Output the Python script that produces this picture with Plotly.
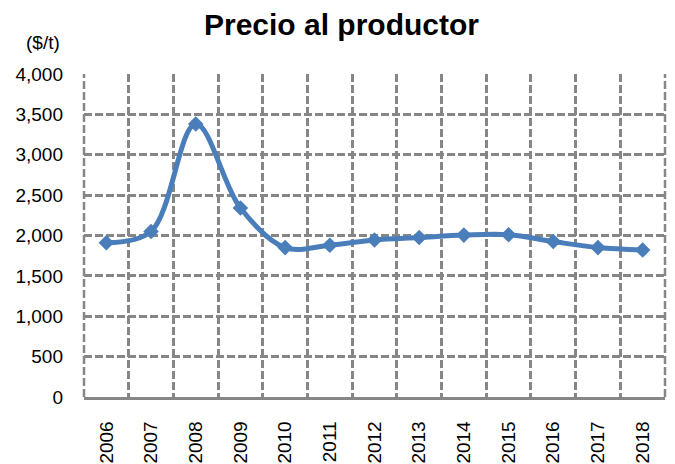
import plotly.graph_objects as go

years = ["2006", "2007", "2008", "2009", "2010", "2011", "2012", "2013", "2014", "2015", "2016", "2017", "2018"]
prices = [1910, 2050, 3380, 2340, 1850, 1880, 1945, 1975, 2005, 2010, 1925, 1850, 1820]
y_ticks = [0, 500, 1000, 1500, 2000, 2500, 3000, 3500, 4000]
y_tick_labels = ["0", "500", "1,000", "1,500", "2,000", "2,500", "3,000", "3,500", "4,000"]

blue = "#4A7EBB"
grid = "#868686"
dash = "8px,3px"

fig = go.Figure()
fig.add_trace(go.Scatter(
    x=years, y=prices, mode="lines+markers",
    line=dict(color=blue, width=5, shape="spline", smoothing=1.0),
    marker=dict(symbol="diamond", size=12, color=blue),
    hoverinfo="skip", showlegend=False,
))

fig.update_layout(
    width=667, height=456,
    margin=dict(l=76, r=10, t=66, b=67, autoexpand=False),
    paper_bgcolor="white", plot_bgcolor="white",
    title=dict(text="<b>Precio al productor</b>", x=0.5, xanchor="center", y=0.963, yanchor="middle",
               font=dict(family="Liberation Sans, Arial", size=30, color="black")),
    font=dict(family="Liberation Sans, Arial", color="black"),
    xaxis=dict(
        type="category", range=[-0.5, 12.5], tickson="boundaries",
        showgrid=True, gridcolor=grid, griddash=dash, gridwidth=2.5,
        showline=True, linecolor=grid, linewidth=2.5,
        tickangle=-90, tickfont=dict(size=19), ticks="",
        ticklabelstandoff=14, zeroline=False, automargin=False,
    ),
    yaxis=dict(
        range=[0, 4000], tickvals=y_ticks, ticktext=y_tick_labels,
        showgrid=True, gridcolor=grid, griddash=dash, gridwidth=2.5,
        showline=False, zeroline=False, ticks="",
        tickfont=dict(size=19), ticklabelstandoff=20, automargin=False,
    ),
    shapes=[
        dict(type="line", xref="paper", yref="paper", x0=0, x1=0, y0=0, y1=1,
             line=dict(color=grid, width=2.5, dash=dash), layer="below"),
        dict(type="line", xref="paper", yref="paper", x0=1, x1=1, y0=0, y1=1,
             line=dict(color=grid, width=2.5, dash=dash), layer="below"),
    ],
    annotations=[dict(text="($/t)", xref="paper", yref="paper", x=-0.0714, y=1.099,
                      xanchor="center", yanchor="middle", showarrow=False,
                      font=dict(size=19, color="black"))],
)

fig.write_html("out.html")
